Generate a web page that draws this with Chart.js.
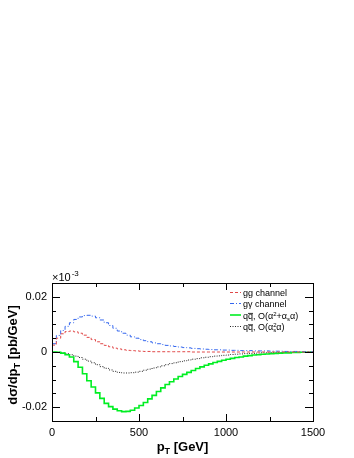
<!DOCTYPE html>
<html lang="en">
<head>
<meta charset="UTF-8">
<title>d sigma / dpT</title>
<script src="https://cdn.jsdelivr.net/npm/chart.js"></script>
<style>
  body { margin: 0; background: #fff; }
  canvas { display: block; }
</style>
</head>
<body>
<canvas id="c" width="354" height="458"></canvas>
<script>
// bin low edges (GeV), 25 GeV bins
var binLow = [0, 25, 50, 75, 100, 125, 150, 175, 200, 225, 250, 275, 300, 325, 350, 375, 400, 425, 450, 475,
  500, 525, 550, 575, 600, 625, 650, 675, 700, 725, 750, 775, 800, 825, 850, 875, 900, 925, 950, 975,
  1000, 1025, 1050, 1075, 1100, 1125, 1150, 1175, 1200, 1225, 1250, 1275, 1300, 1325, 1350, 1375, 1400, 1425, 1450, 1475];
var binHigh = 1500;

// values in units of 10^-3 pb/GeV (axis shows x10^-3)
var ggChannel = [0.0025, 0.0050, 0.0066, 0.0074, 0.0076, 0.0073, 0.0068, 0.0061, 0.0053, 0.0045,
  0.0037, 0.0030, 0.0024, 0.0019, 0.0014, 0.0011, 0.0008, 0.0006, 0.0005, 0.0004,
  0.0003, 0.0002, 0.0002, 0.0001, 0.0001, 0.0001, 0.0001, 0.0001, 0.0001, 0.0001,
  0.0001, 0.0001, 0, 0, 0, 0, 0, 0, 0, 0,
  0, 0, 0, 0, 0, 0, 0, 0, 0, 0,
  0, 0, 0, 0, 0, 0, 0, 0, 0, 0];
var gaChannel = [0.0030, 0.0060, 0.0078, 0.0093, 0.0106, 0.0118, 0.0127, 0.0132, 0.0133, 0.0130,
  0.0124, 0.0116, 0.0106, 0.0096, 0.0086, 0.0076, 0.0068, 0.0061, 0.0055, 0.0050,
  0.0045, 0.0041, 0.0037, 0.0033, 0.0030, 0.0027, 0.0024, 0.0022, 0.0020, 0.0018,
  0.0016, 0.0015, 0.0013, 0.0012, 0.0011, 0.0010, 0.0009, 0.0008, 0.0008, 0.0007,
  0.0007, 0.0006, 0.0006, 0.0005, 0.0005, 0.0005, 0.0004, 0.0004, 0.0004, 0.0004,
  0.0003, 0.0003, 0.0003, 0.0002, 0.0002, 0.0002, 0.0002, 0.0001, 0.0001, 0.0001];
var qqEW = [0, -0.0001, -0.0004, -0.0010, -0.0018, -0.0035, -0.0055, -0.0079, -0.0104, -0.0127,
  -0.0148, -0.0168, -0.0186, -0.0198, -0.0207, -0.0213, -0.0216, -0.0215, -0.0211, -0.0203,
  -0.0194, -0.0183, -0.0170, -0.0157, -0.0143, -0.0130, -0.0118, -0.0108, -0.0098, -0.0089,
  -0.0081, -0.0074, -0.0067, -0.0060, -0.0054, -0.0048, -0.0043, -0.0038, -0.0034, -0.0030,
  -0.0026, -0.0023, -0.0020, -0.0018, -0.0015, -0.0013, -0.0011, -0.0010, -0.0008, -0.0007,
  -0.0006, -0.0005, -0.0004, -0.0003, -0.0003, -0.0002, -0.0002, -0.0001, -0.0001, -0.0001];
var qqQCD = [0, -0.0001, -0.0003, -0.0006, -0.0010, -0.0015, -0.0020, -0.0026, -0.0033, -0.0039,
  -0.0046, -0.0053, -0.0059, -0.0065, -0.0070, -0.0074, -0.0076, -0.0076, -0.0075, -0.0073,
  -0.0070, -0.0066, -0.0062, -0.0058, -0.0054, -0.0050, -0.0046, -0.0042, -0.0039, -0.0035,
  -0.0032, -0.0029, -0.0026, -0.0024, -0.0021, -0.0019, -0.0017, -0.0015, -0.0014, -0.0012,
  -0.0011, -0.0009, -0.0008, -0.0007, -0.0006, -0.0005, -0.0005, -0.0004, -0.0003, -0.0003,
  -0.0002, -0.0002, -0.0002, -0.0001, -0.0001, -0.0001, -0.0001, -0.0001, 0, 0];

var xLabels = [0, 500, 1000, 1500];
var yLabels = [0.02, 0, -0.02];

var FONT = '"Liberation Sans", Arial, Helvetica, sans-serif';

// histogram points: one per bin edge, last value repeated at the upper edge
function histo(vals) {
  var pts = binLow.map(function (x, i) { return { x: x, y: vals[i] }; });
  pts.push({ x: binHigh, y: vals[vals.length - 1] });
  return pts;
}

// legend rows: text made of pieces {t, dy, size, bar}
var legendRows = [
  { color: '#e04848', dash: [3, 2], width: 1, parts: [{ t: 'gg channel' }] },
  { color: '#3366ee', dash: [4, 2, 1, 2], width: 1, parts: [{ t: 'g\u03b3 channel' }] },
  { color: '#00ee22', dash: [], width: 1.6, parts: [{ t: 'q' }, { t: 'q', bar: true }, { t: ', O(\u03b1' }, { t: '2', dy: -3, size: 6 }, { t: '+\u03b1' }, { t: 's', dy: 2, size: 6 }, { t: '\u03b1)' }] },
  { color: '#222222', dash: [1, 1.5], width: 1, parts: [{ t: 'q' }, { t: 'q', bar: true }, { t: ', O(\u03b1' }, { t: '2', dy: -3, size: 6, stack: true }, { t: 's', dy: 2, size: 6 }, { t: '\u03b1)' }] }
];

function drawParts(ctx, parts, x, y, base) {
  parts.forEach(function (p) {
    var size = p.size || base;
    ctx.font = size + 'px ' + FONT;
    var w = ctx.measureText(p.t).width;
    ctx.fillText(p.t, x, y + (p.dy || 0));
    if (p.bar) {
      ctx.fillRect(x, y - size * 0.62, w, 0.8);
    }
    // stacked superscript: next piece goes below it at the same x
    if (!p.stack) x += w;
  });
  return x;
}

var rootStyle = {
  id: 'rootStyle',
  afterDraw: function (chart) {
    var ctx = chart.ctx;
    var a = chart.chartArea;
    var xs = chart.scales.x, ys = chart.scales.y;
    ctx.save();
    ctx.strokeStyle = '#000';
    ctx.fillStyle = '#000';
    ctx.lineWidth = 1;
    // frame
    ctx.strokeRect(Math.round(a.left) + 0.5, Math.round(a.top) + 0.5, Math.round(a.right - a.left), Math.round(a.bottom - a.top));

    // x ticks every 250, inside frame, bottom and top
    ctx.beginPath();
    for (var v = 0; v <= 1500; v += 250) {
      var px = Math.round(xs.getPixelForValue(v)) + 0.5;
      var len = (v % 500 === 0) ? 7 : 4;
      ctx.moveTo(px, a.bottom); ctx.lineTo(px, a.bottom - len);
      ctx.moveTo(px, a.top); ctx.lineTo(px, a.top + len);
    }
    // y ticks every 0.005, left and right
    for (var k = -5; k <= 5; k++) {
      var py = Math.round(ys.getPixelForValue(k * 0.005)) + 0.5;
      var l2 = (k % 4 === 0) ? 8 : 4;
      ctx.moveTo(a.left, py); ctx.lineTo(a.left + l2, py);
      ctx.moveTo(a.right, py); ctx.lineTo(a.right - l2, py);
    }
    ctx.stroke();

    // exponent label
    ctx.textBaseline = 'alphabetic';
    ctx.textAlign = 'left';
    ctx.font = '11px ' + FONT;
    ctx.fillText('\u00d710', a.left, a.top - 2);
    var ew = ctx.measureText('\u00d710').width;
    ctx.font = '8px ' + FONT;
    ctx.fillText('-3', a.left + ew + 1, a.top - 7);

    // x title, centred
    ctx.font = 'bold 13px ' + FONT;
    var t1 = 'p', t2 = 'T', t3 = ' [GeV]';
    var w1 = ctx.measureText(t1).width, w3 = ctx.measureText(t3).width;
    ctx.font = 'bold 9px ' + FONT;
    var w2 = ctx.measureText(t2).width;
    var cx = (a.left + a.right) / 2;
    var sx = cx - (w1 + w2 + w3) / 2;
    var by = 451;
    ctx.font = 'bold 13px ' + FONT;
    ctx.fillText(t1, sx, by);
    ctx.font = 'bold 9px ' + FONT;
    ctx.fillText(t2, sx + w1, by + 3);
    ctx.font = 'bold 13px ' + FONT;
    ctx.fillText(t3, sx + w1 + w2, by);

    // y title, rotated
    ctx.save();
    ctx.translate(17, (a.top + a.bottom) / 2 + 3);
    ctx.rotate(-Math.PI / 2);
    var y1 = 'd\u03c3/dp', y2 = 'T', y3 = ' [pb/GeV]';
    ctx.font = 'bold 13px ' + FONT;
    var q1 = ctx.measureText(y1).width, q3 = ctx.measureText(y3).width;
    ctx.font = 'bold 9px ' + FONT;
    var q2 = ctx.measureText(y2).width;
    var s0 = -(q1 + q2 + q3) / 2;
    ctx.font = 'bold 13px ' + FONT;
    ctx.fillText(y1, s0, 0);
    ctx.font = 'bold 9px ' + FONT;
    ctx.fillText(y2, s0 + q1, 3);
    ctx.font = 'bold 13px ' + FONT;
    ctx.fillText(y3, s0 + q1 + q2, 0);
    ctx.restore();

    // legend
    var rowsY = [296, 307, 318.5, 330];
    legendRows.forEach(function (r, i) {
      var yy = rowsY[i];
      ctx.save();
      ctx.strokeStyle = r.color;
      ctx.lineWidth = r.width;
      ctx.setLineDash(r.dash);
      ctx.beginPath();
      ctx.moveTo(230, yy - 3.5);
      ctx.lineTo(241, yy - 3.5);
      ctx.stroke();
      ctx.restore();
      ctx.fillStyle = '#000';
      drawParts(ctx, r.parts, 243, yy, 9);
    });
    ctx.restore();
  }
};

function ds(label, vals, color, dash, width) {
  return {
    label: label,
    data: histo(vals),
    borderColor: color,
    borderDash: dash,
    borderWidth: width,
    stepped: 'before',
    pointRadius: 0,
    fill: false
  };
}

new Chart(document.getElementById('c'), {
  type: 'line',
  data: {
    datasets: [
      ds('gg channel', ggChannel, '#e04848', [3, 2], 1),
      ds('g\u03b3 channel', gaChannel, '#3366ee', [4, 2, 1, 2], 1),
      ds('qq EW', qqEW, '#00ee22', [], 1.6),
      ds('qq QCD', qqQCD, '#222222', [1, 1.5], 1)
    ]
  },
  options: {
    responsive: false,
    animation: false,
    events: [],
    layout: { padding: { top: 283, right: 41, bottom: 0, left: 0 } },
    plugins: { legend: { display: false }, tooltip: { enabled: false } },
    scales: {
      x: {
        type: 'linear',
        min: 0, max: 1500,
        afterFit: function (s) { s.height = 37; },
        afterBuildTicks: function (s) { s.ticks = xLabels.map(function (v) { return { value: v }; }); },
        grid: { display: false, drawTicks: false },
        border: { display: false },
        ticks: {
          padding: 5, color: '#000', font: { family: FONT, size: 11 }, maxRotation: 0, autoSkip: false,
          callback: function (v) { return String(v); }
        }
      },
      y: {
        min: -0.025, max: 0.025,
        afterFit: function (s) { s.width = 52; },
        afterBuildTicks: function (s) { s.ticks = yLabels.map(function (v) { return { value: v }; }); },
        grid: { display: false, drawTicks: false },
        border: { display: false },
        ticks: {
          padding: 5, color: '#000', font: { family: FONT, size: 11 }, autoSkip: false,
          callback: function (v) { return v === 0 ? '0' : String(v); }
        }
      }
    }
  },
  plugins: [rootStyle]
});
</script>
</body>
</html>
